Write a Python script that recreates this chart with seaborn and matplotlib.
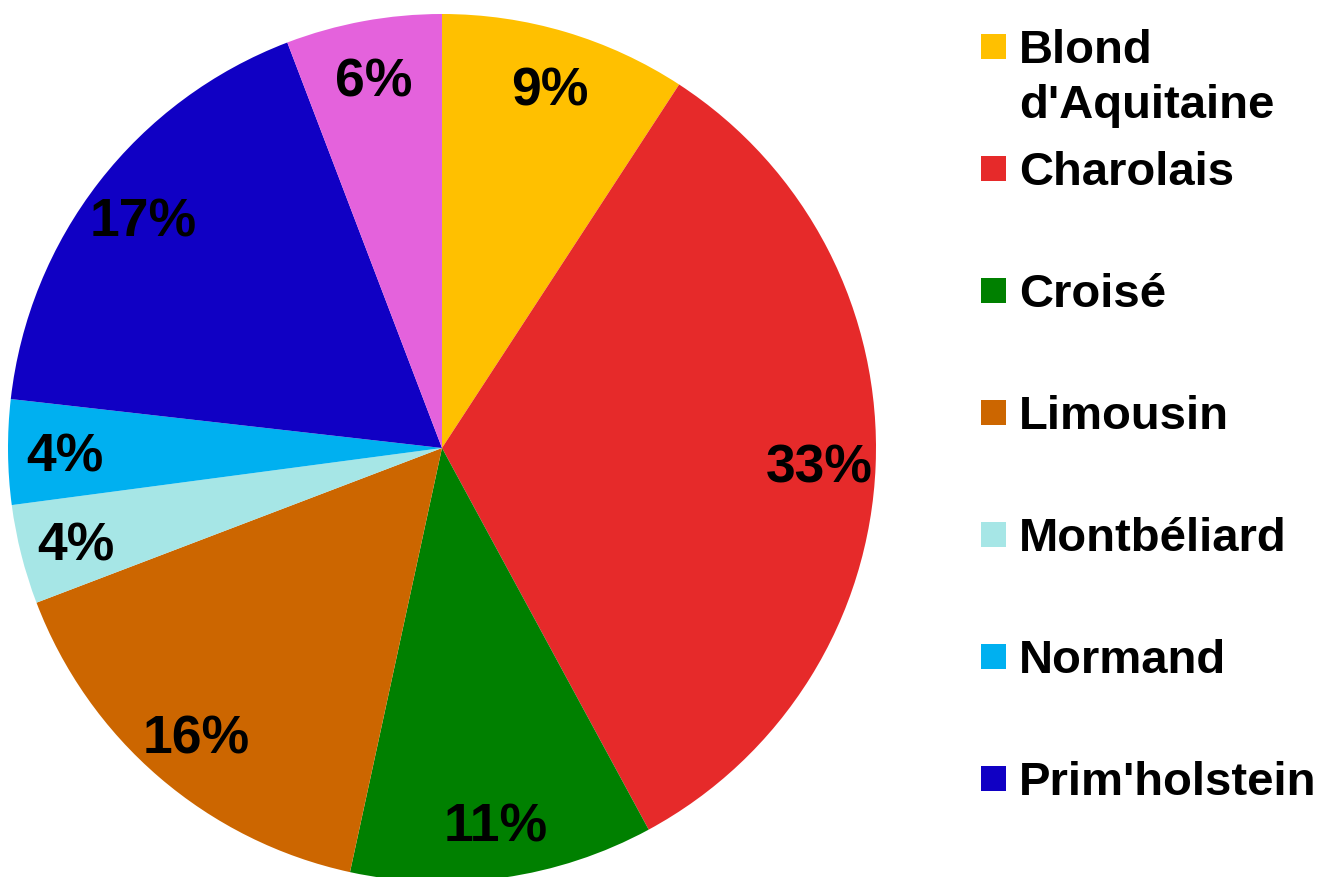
import matplotlib
matplotlib.use("Agg")
import matplotlib.pyplot as plt
import seaborn as sns

# ---- data ----
categories = ["Blond\nd'Aquitaine", "Charolais", "Croisé", "Limousin",
              "Montbéliard", "Normand", "Prim'holstein", "Autres"]
shares = [9.2, 32.9, 11.3, 15.8, 3.7, 3.9, 17.4, 5.8]
colors = ["#FFC000", "#E62A2A", "#008000", "#CC6600",
          "#A6E6E6", "#00B0F0", "#1000C4", "#E462DC"]
legend_count = 7  # legend in the reference shows the first seven entries

sns.set_theme(style="white")
plt.rcParams["font.family"] = ["Liberation Sans", "DejaVu Sans"]

W, H = 1321, 877
fig = plt.figure(figsize=(W / 100, H / 100), dpi=100)

cx, cy, R = 442, 448, 434
ax = fig.add_axes([(cx - R) / W, (H - cy - R) / H, 2 * R / W, 2 * R / H])
palette = sns.color_palette(colors)

wedges, texts, autotexts = ax.pie(
    shares, colors=palette, startangle=90, counterclock=False,
    autopct="%.0f%%", pctdistance=0.87, radius=1.0,
    wedgeprops=dict(linewidth=0),
    textprops=dict(fontsize=38.5, fontweight="bold", color="black"),
)
for t in autotexts:
    t.set_va("center_baseline")
ax.set_xlim(-1, 1)
ax.set_ylim(-1, 1)
ax.set_aspect("equal")
ax.axis("off")

# ---- legend (manual layout to match reference spacing) ----
sq = 25
x_sq = 981
x_txt = 1019
y0 = 46.5
step = 122
line_h = 55
for i in range(legend_count):
    yc = y0 + step * i
    fig.patches.append(plt.Rectangle(
        (x_sq / W, (H - yc - sq / 2) / H), sq / W, sq / H,
        transform=fig.transFigure, facecolor=palette[i], edgecolor="none"))
    for j, line in enumerate(categories[i].split("\n")):
        yb = yc + 16.5 + j * line_h
        fig.text(x_txt / W, (H - yb) / H, line, fontsize=34,
                 fontweight="bold", ha="left", va="baseline", color="black")

fig.savefig("out.png", dpi=100)
